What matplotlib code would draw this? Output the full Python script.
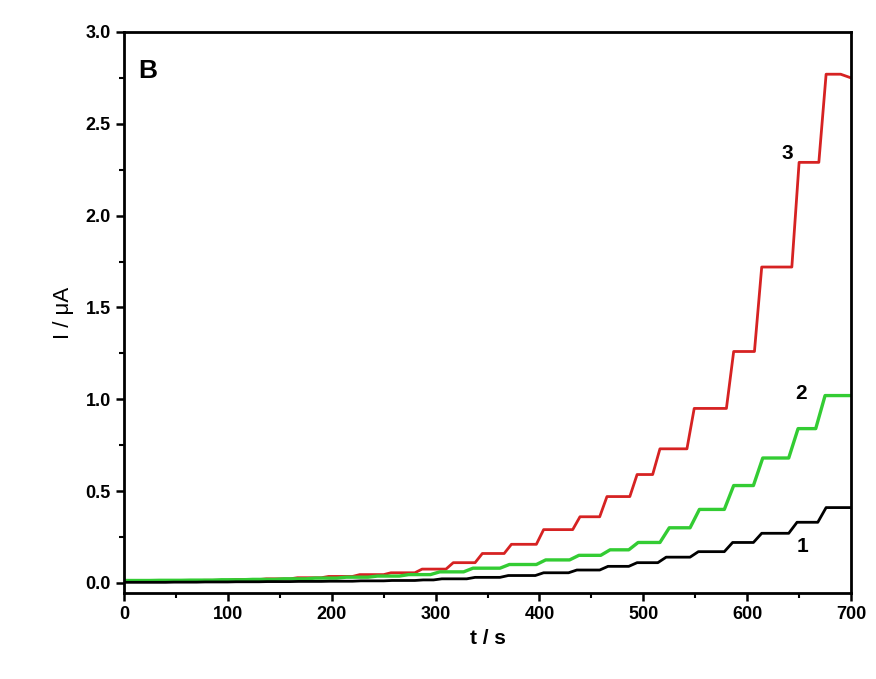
import numpy as np
import matplotlib.pyplot as plt
from matplotlib.ticker import MultipleLocator, FormatStrFormatter

plt.rcParams['font.family'] = ['Liberation Sans', 'DejaVu Sans']
plt.rcParams['font.weight'] = 'bold'

# step (injection) times in s and the current level reached after each step, in uA
t_red = [0, 40, 70, 100, 130, 160, 190, 220, 250, 280, 310, 338, 366, 397,
         432, 458, 487, 509, 542, 580, 607, 643, 669]
i_red = [0.010, 0.012, 0.014, 0.018, 0.022, 0.028, 0.035, 0.045, 0.055,
         0.075, 0.11, 0.16, 0.21, 0.29, 0.36, 0.47, 0.59, 0.73, 0.95, 1.26,
         1.72, 2.29, 2.77]
i_red_last = 2.75  # small dip at 700 s

t_green = [0, 25, 55, 85, 115, 145, 175, 205, 235, 265, 295, 327, 362, 397,
           429, 459, 486, 516, 545, 578, 606, 640, 666]
i_green = [0.013, 0.014, 0.015, 0.017, 0.019, 0.022, 0.026, 0.031, 0.037,
           0.045, 0.06, 0.08, 0.10, 0.125, 0.15, 0.18, 0.22, 0.30, 0.40, 0.53,
           0.68, 0.84, 1.02]

t_black = [0, 40, 70, 100, 130, 160, 190, 220, 250, 280, 298, 330, 362, 396,
           428, 458, 486, 514, 545, 578, 606, 640, 668]
i_black = [0.003, 0.004, 0.005, 0.006, 0.007, 0.008, 0.009, 0.011, 0.013,
           0.016, 0.022, 0.03, 0.04, 0.055, 0.07, 0.09, 0.11, 0.14, 0.17,
           0.22, 0.27, 0.33, 0.41]


def staircase(times, levels, t_end, rise):
    # plateau from one step to the next, with a short rise at each step
    xs, ys = [], []
    for k in range(len(times)):
        start = times[k] if k == 0 else times[k] + rise
        stop = times[k + 1] if k + 1 < len(times) else t_end
        xs += [start, stop]
        ys += [levels[k], levels[k]]
    return xs, ys


fig = plt.figure(figsize=(8.76, 6.79), dpi=100)
ax = fig.add_axes([0.1416, 0.1267, 0.8299, 0.8262])

x3, y3 = staircase(t_red, i_red, 690, 7)
x3.append(700)
y3.append(i_red_last)
ax.plot(x3, y3, color='#d62222', lw=2.0, solid_joinstyle='round')

x2, y2 = staircase(t_green, i_green, 700, 9)
ax.plot(x2, y2, color='#33cc33', lw=2.4, solid_joinstyle='round')

x1, y1 = staircase(t_black, i_black, 700, 8)
ax.plot(x1, y1, color='black', lw=2.0, solid_joinstyle='round')

ax.set_xlim(0, 700)
ax.set_ylim(-0.055, 3.0)
ax.xaxis.set_major_locator(MultipleLocator(100))
ax.xaxis.set_minor_locator(MultipleLocator(50))
ax.yaxis.set_major_locator(MultipleLocator(0.5))
ax.yaxis.set_minor_locator(MultipleLocator(0.25))
ax.yaxis.set_major_formatter(FormatStrFormatter('%.1f'))
ax.tick_params(which='major', direction='out', length=6, width=1.8,
               labelsize=13)
ax.tick_params(which='minor', direction='out', length=3.5, width=1.5)
for s in ax.spines.values():
    s.set_linewidth(2.0)

ax.set_xlabel('t / s', fontsize=15, fontweight='bold', labelpad=4)
ax.set_ylabel('I / \u03bcA', fontsize=16, fontweight='normal', labelpad=8)

ax.text(23, 2.79, 'B', fontsize=19, fontweight='bold', ha='center', va='center')
ax.text(639, 2.34, '3', fontsize=15, fontweight='bold', ha='center', va='center')
ax.text(652, 1.03, '2', fontsize=15, fontweight='bold', ha='center', va='center')
ax.text(653, 0.20, '1', fontsize=15, fontweight='bold', ha='center', va='center')

fig.savefig('out.png', dpi=100)
